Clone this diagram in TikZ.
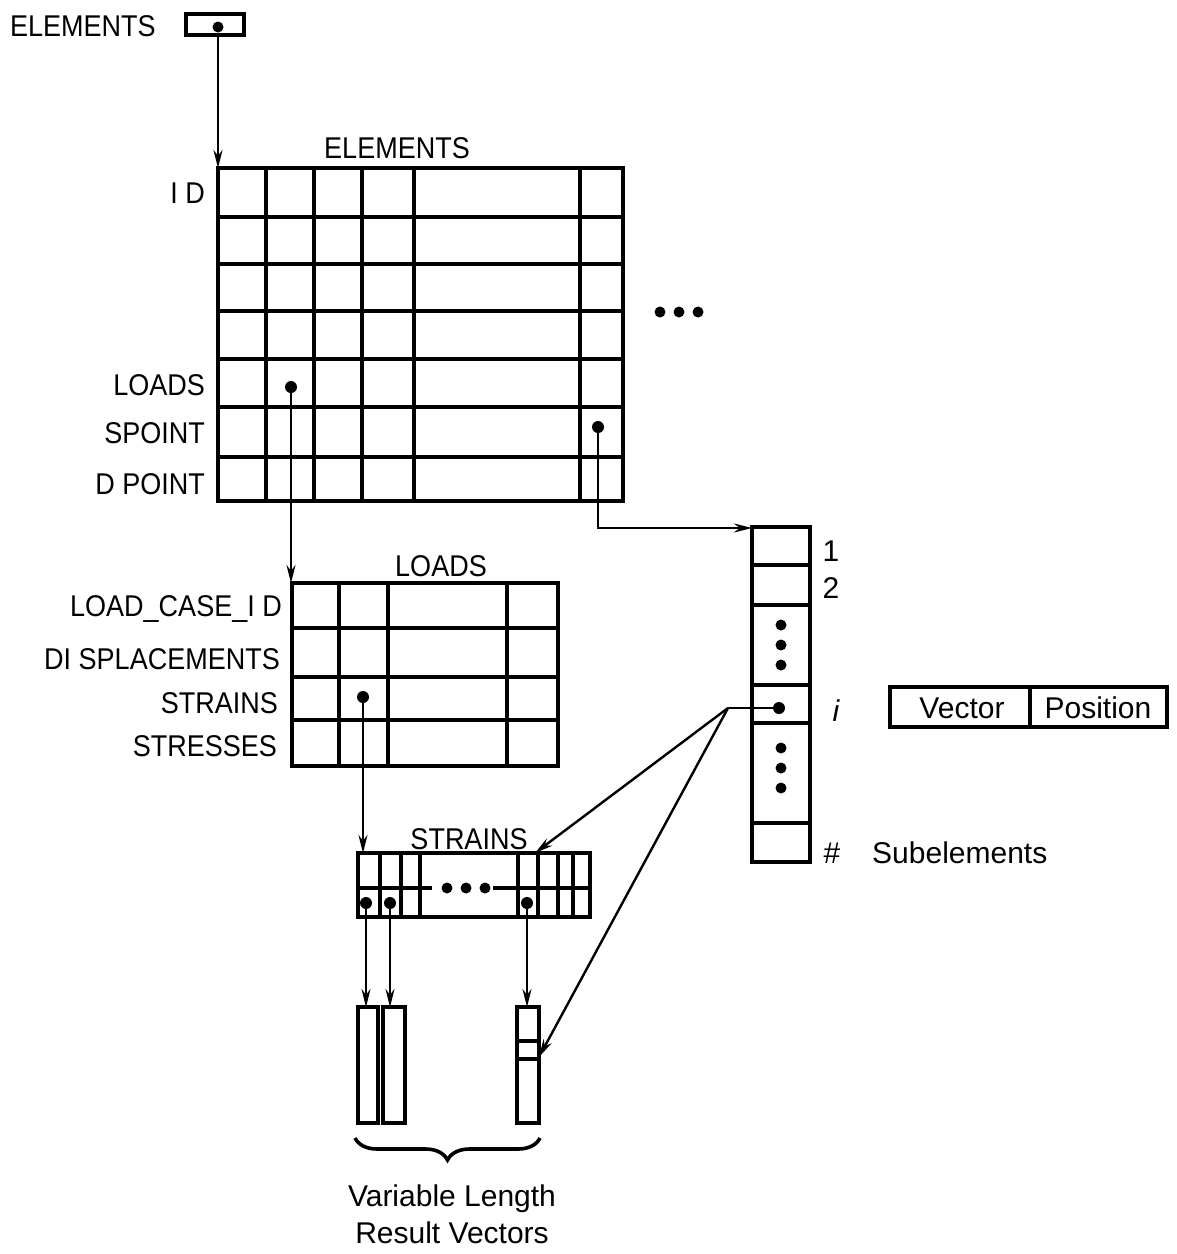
\documentclass[tikz,border=0pt]{standalone}
\usepackage{fontspec}
\setmainfont{Liberation Sans}
\newfontfamily\capfont[FakeStretch=0.9]{Liberation Sans}
\usetikzlibrary{arrows.meta,decorations.pathreplacing}
\begin{document}
\begin{tikzpicture}[x=1pt,y=-1pt,
  gridline/.style={line width=3.6pt, line cap=rect},
  conn/.style={line width=2.4pt},
  arr/.style={conn,-{Stealth[length=18pt,width=9pt]}},
  dotn/.style={circle,fill=black,inner sep=0pt,minimum size=12pt},
  smalldot/.style={circle,fill=black,inner sep=0pt,minimum size=11pt},
  lbl/.style={font=\fontsize{30}{30}\capfont, inner sep=0pt, anchor=base east},
  ttl/.style={font=\fontsize{30}{30}\capfont, inner sep=0pt, anchor=base},
  txt/.style={font=\fontsize{30}{30}\selectfont, inner sep=0pt, anchor=base},
]
\useasboundingbox (0,0) rectangle (1177,1254);

% top pointer box
\node[font=\fontsize{30}{30}\capfont, inner sep=0pt, anchor=base west] (topl) at (10,36) {ELEMENTS};
\draw[gridline] (186,14) rectangle (244,35);
\node[smalldot] (topdot) at (218,27) {};

% ELEMENTS grid
\node[ttl] (elt) at (397,158) {ELEMENTS};
\draw[gridline] (218,168) rectangle (623,501);
\foreach \y in {217,264,311,359,407,457} \draw[gridline] (218,\y) -- (623,\y);
\foreach \x in {266,314,362,414,580} \draw[gridline] (\x,168) -- (\x,501);
\coordinate (elNW) at (218,168);
\node[lbl] (lid) at (205,203) {I D};
\node[lbl] (lloads) at (205,395) {LOADS};
\node[lbl] (lsp) at (205,443) {SPOINT};
\node[lbl] (ldp) at (205,494) {D POINT};
\node[smalldot] (e1) at (660,312) {};
\node[smalldot] (e2) at (679,312) {};
\node[smalldot] (e3) at (698,312) {};

\draw[arr] (topdot) -- (elNW);

% pointers from ELEMENTS
\node[dotn] (ldot) at (291,387) {};
\node[dotn] (sdot) at (598,427) {};
\coordinate (ldNW) at (291,583);
\coordinate (colNW) at (752,528);
\draw[arr] (ldot) -- (ldNW);
\draw[arr] (sdot) |- (colNW);

% LOADS grid
\node[ttl] (ldt) at (441,576) {LOADS};
\draw[gridline] (292,583) rectangle (558,766);
\foreach \y in {628,677,720} \draw[gridline] (292,\y) -- (558,\y);
\foreach \x in {339,388,507} \draw[gridline] (\x,583) -- (\x,766);
\node[lbl] (llc) at (282,616) {LOAD\_CASE\_I D};
\node[lbl] (ldisp) at (280,669) {DI SPLACEMENTS};
\node[lbl] (lstr) at (278,713) {STRAINS};
\node[lbl] (lsts) at (277,756) {STRESSES};
\node[dotn] (stdot) at (363,697) {};
\coordinate (stNW) at (363,853);
\draw[arr] (stdot) -- (stNW);

% STRAINS grid
\node[ttl] (stt) at (469,849) {STRAINS};
\draw[gridline] (358,853) rectangle (590,917);
\draw[gridline] (358,888) -- (430,888);
\draw[gridline] (495,888) -- (590,888);
\foreach \x in {380,401,420,518,538,558,573} \draw[gridline] (\x,853) -- (\x,917);
\node[smalldot] (m1) at (447,888) {};
\node[smalldot] (m2) at (466,888) {};
\node[smalldot] (m3) at (485,888) {};
\node[dotn] (sd1) at (366,903) {};
\node[dotn] (sd2) at (390,903) {};
\node[dotn] (sd3) at (527,903) {};

% result vectors
\draw[gridline] (358,1007) rectangle (378,1123);
\draw[gridline] (383,1007) rectangle (405,1123);
\draw[gridline] (517,1007) rectangle (539,1123);
\draw[gridline] (517,1041) -- (539,1041);
\draw[gridline] (517,1059) -- (539,1059);
\coordinate (v1) at (366,1007);
\coordinate (v2) at (390,1007);
\coordinate (v3) at (527,1007);
\coordinate (v3pos) at (539,1057);
\draw[arr] (sd1) -- (v1);
\draw[arr] (sd2) -- (v2);
\draw[arr] (sd3) -- (v3);

% subelement column
\draw[gridline] (752,527) rectangle (810,862);
\foreach \y in {565,605,685,723,823} \draw[gridline] (752,\y) -- (810,\y);
\foreach \y in {625,645,665,748,768,788} \node[smalldot] at (781,\y) {};
\node[txt] (n1) at (831,561) {1};
\node[txt] (n2) at (831,598) {2};
\node[txt] (ni) at (836,721) {\itshape i};
\node[txt] (nh) at (832,863) {\#};
\node[txt, anchor=base west] (subl) at (872,863) {Subelements};

% i pointer
\node[dotn] (idot) at (779,708) {};
\coordinate (ijoin) at (728,708);
\coordinate (stNE) at (535,853);
\draw[conn] (idot) -- (ijoin);
\draw[arr] (ijoin) -- (stNE);
\draw[arr] (ijoin) -- (v3pos);

% Vector / Position legend
\draw[gridline] (890,687) rectangle (1167,727);
\draw[gridline] (1030,687) -- (1030,727);
\node[txt] (vec) at (962,718) {Vector};
\node[txt] (pos) at (1098,718) {Position};

% brace and caption
\draw[decorate, decoration={brace, mirror, amplitude=22pt}, line width=3.6pt] (355,1138) -- (540,1138);
\node[txt] (cap1) at (452,1206) {Variable Length};
\node[txt] (cap2) at (452,1243) {Result Vectors};
\end{tikzpicture}
\end{document}
